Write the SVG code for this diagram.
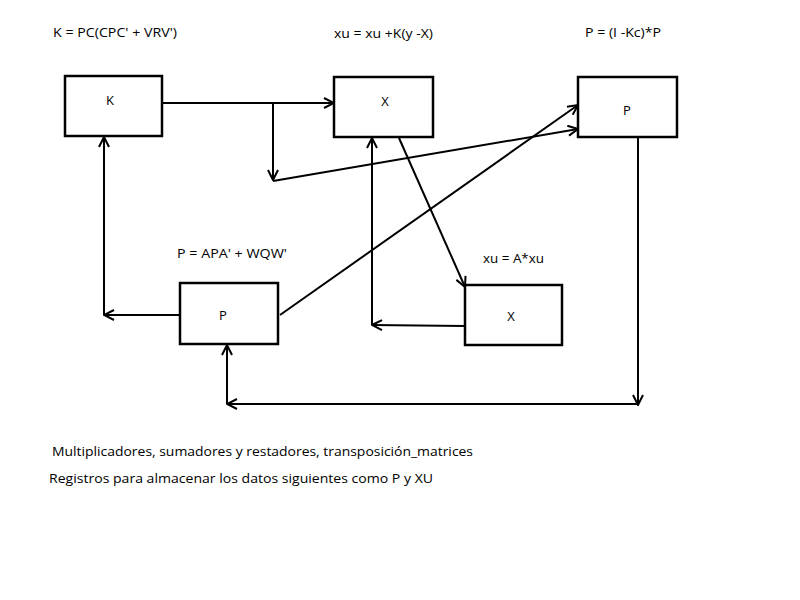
<svg xmlns="http://www.w3.org/2000/svg" width="800" height="600" viewBox="0 0 800 600">
<style>
.box{fill:#fff;stroke:#000;stroke-width:2.5}
.lbl{font-family:"Open Sans","Liberation Sans",sans-serif;font-size:13px;fill:#000;text-anchor:middle}
.txt{font-family:"Open Sans","Liberation Sans",sans-serif;font-size:13.5px;fill:#000}
.ln{fill:none;stroke:#000;stroke-width:2}
.ar{marker-end:url(#ah)}
</style>
<defs>
<marker id="ah" viewBox="0 0 12 12" refX="11" refY="6" markerWidth="12" markerHeight="12" markerUnits="userSpaceOnUse" orient="auto">
<polyline points="1,1 11,6 1,11" fill="none" stroke="#000" stroke-width="2"/>
</marker>
</defs>
<rect width="800" height="600" fill="#fff"/>
<g id="connectors">
<line class="ln ar" x1="162" y1="103" x2="334" y2="103"/>
<line class="ln ar" x1="273" y1="103" x2="273" y2="180"/>
<line class="ln ar" x1="273" y1="181" x2="578" y2="129"/>
<line class="ln ar" x1="280" y1="315" x2="578" y2="105"/>
<line class="ln ar" x1="399" y1="138" x2="465" y2="287"/>
<line class="ln ar" x1="465" y1="326" x2="372" y2="325"/>
<line class="ln ar" x1="372" y1="325" x2="372" y2="138"/>
<line class="ln ar" x1="180" y1="315" x2="104" y2="315"/>
<line class="ln ar" x1="104" y1="315" x2="104" y2="137"/>
<line class="ln ar" x1="638" y1="138" x2="638" y2="405"/>
<line class="ln ar" x1="638" y1="404" x2="227" y2="404"/>
<line class="ln ar" x1="227" y1="404" x2="227" y2="345"/>
</g>
<g id="node-K">
<rect class="box" x="65" y="76" width="97" height="60"/>
<text class="lbl" x="110" y="105">K</text>
</g>
<g id="node-X-top">
<rect class="box" x="334" y="77" width="99" height="60"/>
<text class="lbl" x="385" y="106">X</text>
</g>
<g id="node-P-top">
<rect class="box" x="578" y="77" width="99" height="60"/>
<text class="lbl" x="627" y="115">P</text>
</g>
<g id="node-P-bottom">
<rect class="box" x="180" y="283" width="98" height="61"/>
<text class="lbl" x="223" y="320">P</text>
</g>
<g id="node-X-bottom">
<rect class="box" x="465" y="285" width="97" height="60"/>
<text class="lbl" x="511" y="321">X</text>
</g>
<g id="labels">
<text class="txt" x="53" y="37" textLength="124" lengthAdjust="spacingAndGlyphs">K = PC(CPC' + VRV')</text>
<text class="txt" x="334" y="38" textLength="99" lengthAdjust="spacingAndGlyphs">xu = xu +K(y -X)</text>
<text class="txt" x="585" y="37" textLength="76" lengthAdjust="spacingAndGlyphs">P = (I -Kc)*P</text>
<text class="txt" x="177" y="258" textLength="110" lengthAdjust="spacingAndGlyphs">P = APA' + WQW'</text>
<text class="txt" x="483" y="263" textLength="61" lengthAdjust="spacingAndGlyphs">xu = A*xu</text>
<text class="txt" x="52" y="456" textLength="421" lengthAdjust="spacingAndGlyphs">Multiplicadores, sumadores y restadores, transposición_matrices</text>
<text class="txt" x="49" y="483" textLength="384" lengthAdjust="spacingAndGlyphs">Registros para almacenar los datos siguientes como P y XU</text>
</g>
</svg>
